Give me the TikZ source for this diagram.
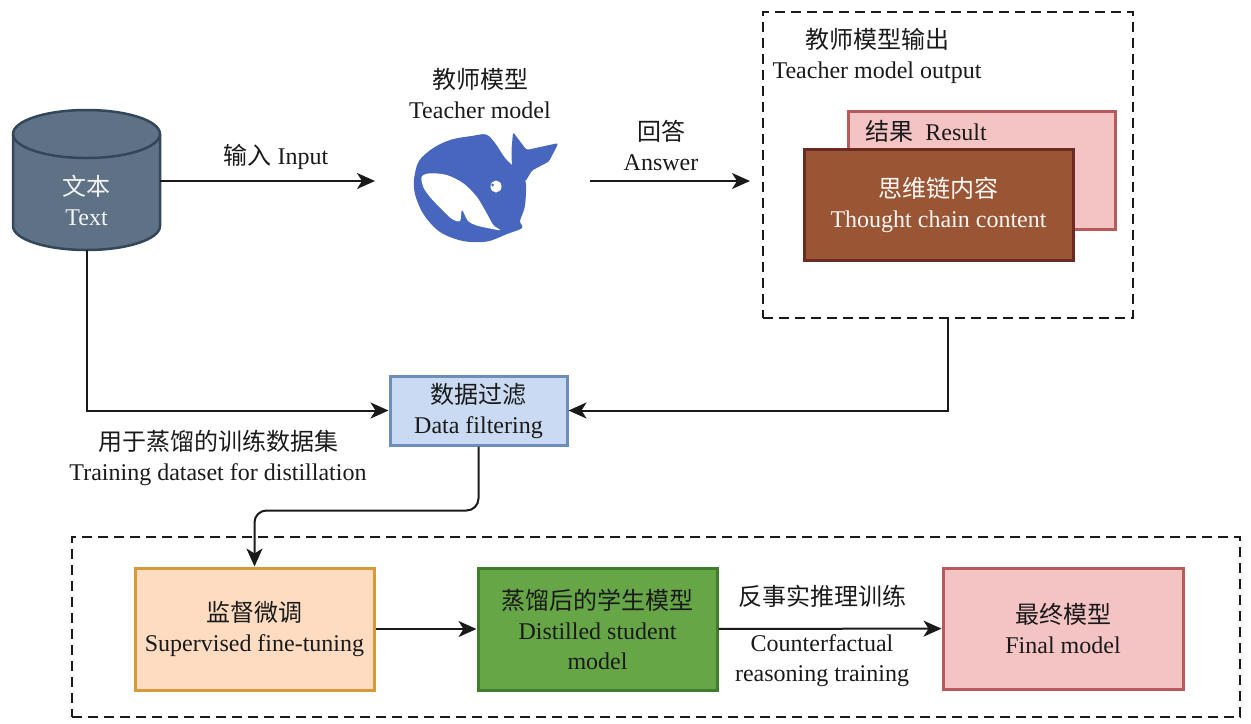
\documentclass[tikz,border=0pt]{standalone}
\usepackage{fontspec}
\setmainfont{Liberation Serif}
\newfontfamily\cjk{Noto Sans CJK SC}
\newcommand{\zh}[1]{{\cjk #1}}
\usetikzlibrary{arrows.meta,calc}
\definecolor{cylfill}{HTML}{5E7185}
\definecolor{cylline}{HTML}{34465A}
\definecolor{pinkfill}{HTML}{F4C3C4}
\definecolor{pinkline}{HTML}{B85A5C}
\definecolor{brownfill}{HTML}{9A5535}
\definecolor{brownline}{HTML}{6B2A22}
\definecolor{bluefill}{HTML}{C9DAF2}
\definecolor{blueline}{HTML}{6C8EBF}
\definecolor{peachfill}{HTML}{FDDCC2}
\definecolor{peachline}{HTML}{D69A37}
\definecolor{greenfill}{HTML}{67A646}
\definecolor{greenline}{HTML}{3E7D2B}
\definecolor{whale}{HTML}{4767BF}
\definecolor{txt}{HTML}{1A1A1A}
\begin{document}
\begin{tikzpicture}[x=0.5pt,y=-0.5pt,
  font=\fontsize{12}{15}\selectfont, text=txt,
  arr/.style={draw=txt, line width=1pt, -{Stealth[length=9pt,width=8pt,inset=2.5pt]}},
  procbox/.style={draw, line width=1.5pt, align=center, inner sep=0pt},
  dashbox/.style={draw=txt, line width=1pt, dash pattern=on 5pt off 3pt, inner sep=0pt},
  lbl/.style={align=center, inner sep=1pt}]
\useasboundingbox (0,0) rectangle (1251,723);

% cylinder
\path[draw=cylline, fill=cylfill, line width=1.25pt]
  (13,134) -- (13,226) .. controls (13,239.25) and (45.9,250) .. (86.5,250)
  .. controls (127.1,250) and (160,239.25) .. (160,226) -- (160,134)
  .. controls (160,120.75) and (127.1,110) .. (86.5,110)
  .. controls (45.9,110) and (13,120.75) .. (13,134) -- cycle;
\draw[cylline, line width=1.25pt] (13,134) .. controls (13,147.25) and (45.9,158) .. (86.5,158)
  .. controls (127.1,158) and (160,147.25) .. (160,134);
\node[lbl, text=white!92!cylfill] (cyltext) at (86.5,200) {\zh{文本}\\Text};
\coordinate (cylr) at (160,181);
\coordinate (cylb) at (87,250);

% whale logo
\fill[whale] plot[smooth cycle, tension=0.55] coordinates {
  (414,180) (419,161) (434,147.5) (451.7,139.5) (471.7,136) (486,134.5)
  (495,143) (505,158) (516,169) (525,180) (526,192) (524.5,208) (520,221)
  (522,228) (507,234) (487,241.5) (463,241) (440,232) (424,215) (415.5,196)};
\fill[whale, rounded corners=1.2pt] (512,172) -- (511.5,150) -- (513,132) -- (526.5,150)
  -- (558.5,143) -- (549,161.5) -- (532,170.5) -- (525,182) -- cycle;
\fill[white] plot[smooth cycle, tension=0.5] coordinates {
  (421.7,176.7) (430,173.3) (446.7,175) (463.3,183.3) (476.7,196.7) (486.7,213.3)
  (493.3,225) (500,230) (490,228.5) (476.7,225.5) (468,221) (462,210) (460,221)
  (452,219) (443.3,211) (430,197) (423.3,187)};
\fill[white] (496,186.5) ellipse [x radius=5.5, y radius=6];
\fill[whale] (492.5,185) circle [radius=1.5];
\node[lbl] (teacher) at (480,94) {\zh{教师模型}\\Teacher model};
\coordinate (inend) at (375,181);
\coordinate (ansstart) at (590,181);
\coordinate (ansend) at (750,181);

% input / answer arrows
\draw[arr] (cylr) -- (inend);
\node[lbl] (inlbl) at (276,157) {\zh{输入} Input};
\draw[arr] (ansstart) -- (ansend);
\node[lbl] (anslbl) at (661,145) {\zh{回答}\\Answer};

% teacher output
\node[dashbox, minimum width=185pt, minimum height=153pt] (tout) at (948,165) {};
\node[lbl] (toutlbl) at (877,56) {\zh{教师模型输出}\\Teacher model output};
\node[procbox, draw=pinkline, fill=pinkfill, minimum width=133.5pt, minimum height=59pt] (result) at (981.5,170) {};
\node[lbl] (resultlbl) at (926,131) {\zh{结果}\ \ Result};
\node[procbox, draw=brownline, fill=brownfill, text=white!95!brownfill, minimum width=134.5pt, minimum height=55.5pt] (thought) at (938.5,204.5) {\zh{思维链内容}\\Thought chain content};

% data filtering
\node[procbox, draw=blueline, fill=bluefill, minimum width=88.5pt, minimum height=34.5pt] (df) at (478.5,410.5) {\zh{数据过滤}\\Data filtering};
\draw[arr] (cylb) |- (df.west);
\draw[arr] (tout.south) |- (df.east);
\node[lbl] (dslbl) at (218,458) {\zh{用于蒸馏的训练数据集}\\Training dataset for distillation};

% bottom
\node[dashbox, minimum width=584pt, minimum height=90pt] (bottom) at (656,627) {};
\node[procbox, draw=peachline, fill=peachfill, minimum width=119.5pt, minimum height=61pt] (sft) at (254.5,629) {\zh{监督微调}\\Supervised fine-tuning};
\node[procbox, draw=greenline, fill=greenfill, text=txt, minimum width=119.5pt, minimum height=61pt] (dist) at (597.5,629) {\zh{蒸馏后的学生模型}\\Distilled student\\model};
\node[procbox, draw=pinkline, fill=pinkfill, minimum width=120pt, minimum height=60.5pt] (final) at (1063,628.5) {\zh{最终模型}\\Final model};
\draw[arr, rounded corners=6pt] (df.south) -- ++(0,64) -| (sft.north);
\draw[arr] (sft) -- (dist);
\draw[arr] (dist) -- (final);
\node[lbl] (cflbl1) at (822,596) {\zh{反事实推理训练}};
\node[lbl] (cflbl2) at (822,661) {Counterfactual\\reasoning training};
\end{tikzpicture}
\end{document}
